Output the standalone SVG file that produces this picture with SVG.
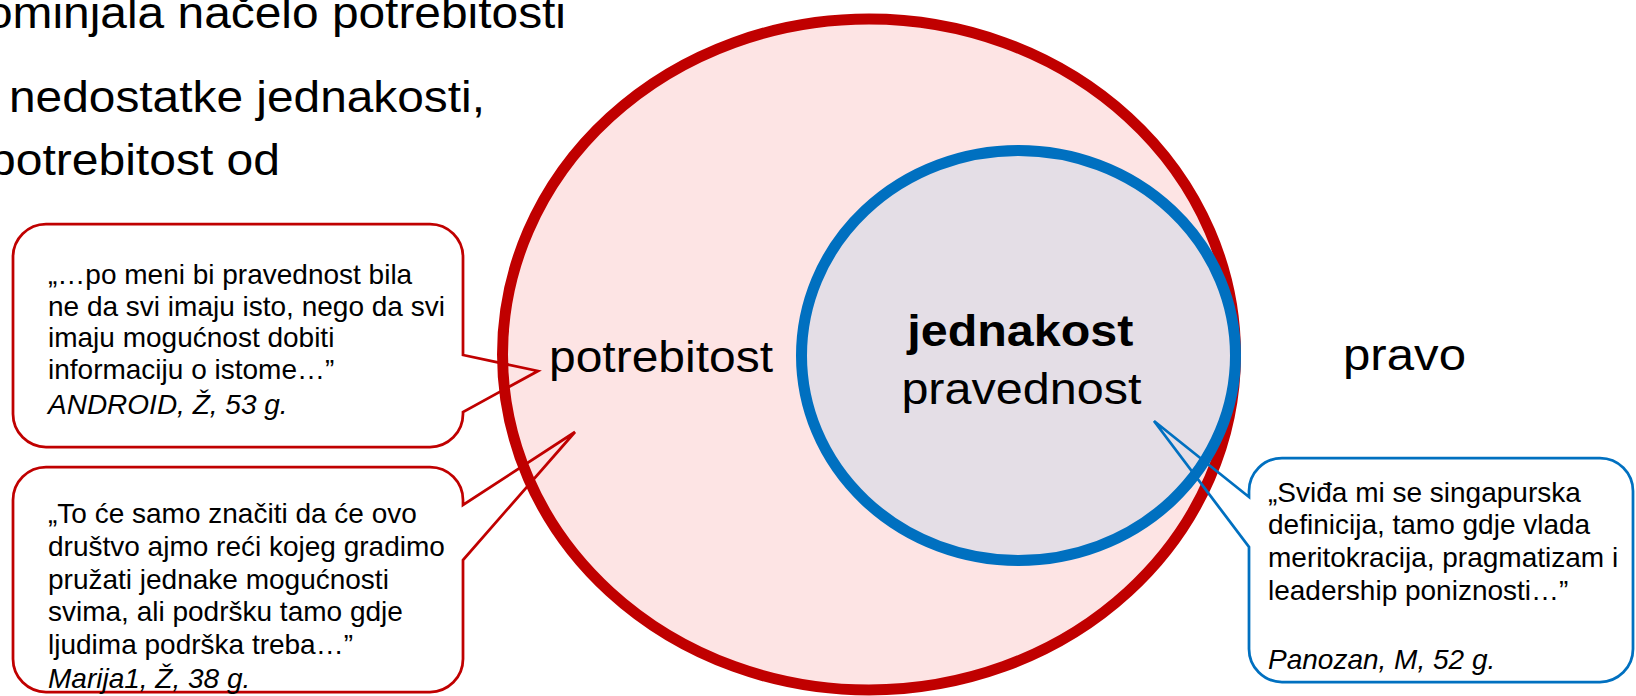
<svg xmlns="http://www.w3.org/2000/svg" width="1636" height="696" viewBox="0 0 1636 696">
<style>
.t{font-family:"Liberation Sans",Arial,sans-serif;fill:#000}
.big{font-size:44px}
.q{font-size:28px}
.i{font-style:italic}
.red{fill:none;stroke:#C00000;stroke-width:2.75;stroke-linejoin:miter}
.blue{fill:none;stroke:#0070C0;stroke-width:2.75;stroke-linejoin:miter}
</style>
<rect width="1636" height="696" fill="#fff"/>
<g id="intro-text">
<text class="t big" x="-14" y="28" textLength="580" lengthAdjust="spacingAndGlyphs">ominjala načelo potrebitosti</text>
<text class="t big" x="9" y="112" textLength="476" lengthAdjust="spacingAndGlyphs">nedostatke jednakosti,</text>
<text class="t big" x="-11" y="175" textLength="291" lengthAdjust="spacingAndGlyphs">potrebitost od</text>
</g>
<g id="outer-circle">
<ellipse cx="869" cy="354.5" rx="366.5" ry="335.5" fill="#FDE4E4" stroke="#C00000" stroke-width="11"/>
<text class="t big" x="549" y="372" textLength="224" lengthAdjust="spacingAndGlyphs">potrebitost</text>
</g>
<g id="inner-circle">
<ellipse cx="1018.5" cy="355.5" rx="217" ry="205" fill="#E4DEE6" stroke="#0070C0" stroke-width="11"/>
<text class="t big" x="1020.3" y="346" text-anchor="middle" font-weight="bold" textLength="226" lengthAdjust="spacingAndGlyphs">jednakost</text>
<text class="t big" x="1021.4" y="404" text-anchor="middle" textLength="240" lengthAdjust="spacingAndGlyphs">pravednost</text>
</g>
<g id="pravo">
<text class="t big" x="1343" y="370" textLength="123" lengthAdjust="spacingAndGlyphs">pravo</text>
</g>
<g id="callout-android">
<path class="red" d="M46,224 H430 A33,33 0 0 1 463,257 V355 L538,371 L463,412 V414 A33,33 0 0 1 430,447 H46 A33,33 0 0 1 13,414 V257 A33,33 0 0 1 46,224 Z"/>
<text class="t q" x="48" y="284">„…po meni bi pravednost bila</text>
<text class="t q" x="48" y="315.5">ne da svi imaju isto, nego da svi</text>
<text class="t q" x="48" y="347">imaju mogućnost dobiti</text>
<text class="t q" x="48" y="378.5">informaciju o istome…”</text>
<text class="t q i" x="48" y="414">ANDROID, Ž, 53 g.</text>
</g>
<g id="callout-marija">
<path class="red" d="M46,467 H430 A33,33 0 0 1 463,500 V505 L575,432 L463,560 V659 A33,33 0 0 1 430,692 H46 A33,33 0 0 1 13,659 V500 A33,33 0 0 1 46,467 Z"/>
<text class="t q" x="48" y="523.3">„To će samo značiti da će ovo</text>
<text class="t q" x="48" y="556">društvo ajmo reći kojeg gradimo</text>
<text class="t q" x="48" y="588.5">pružati jednake mogućnosti</text>
<text class="t q" x="48" y="621">svima, ali podršku tamo gdje</text>
<text class="t q" x="48" y="653.5">ljudima podrška treba…”</text>
<text class="t q i" x="48" y="687.5">Marija1, Ž, 38 g.</text>
</g>
<g id="callout-panozan">
<path class="blue" d="M1282,458 H1600 A33,33 0 0 1 1633,491 V649 A33,33 0 0 1 1600,682 H1282 A33,33 0 0 1 1249,649 V547 L1154,421 L1249,497 V491 A33,33 0 0 1 1282,458 Z"/>
<text class="t q" x="1268" y="501.5">„Sviđa mi se singapurska</text>
<text class="t q" x="1268" y="534">definicija, tamo gdje vlada</text>
<text class="t q" x="1268" y="567">meritokracija, pragmatizam i</text>
<text class="t q" x="1268" y="600">leadership poniznosti…”</text>
<text class="t q i" x="1268" y="669">Panozan, M, 52 g.</text>
</g>
</svg>
